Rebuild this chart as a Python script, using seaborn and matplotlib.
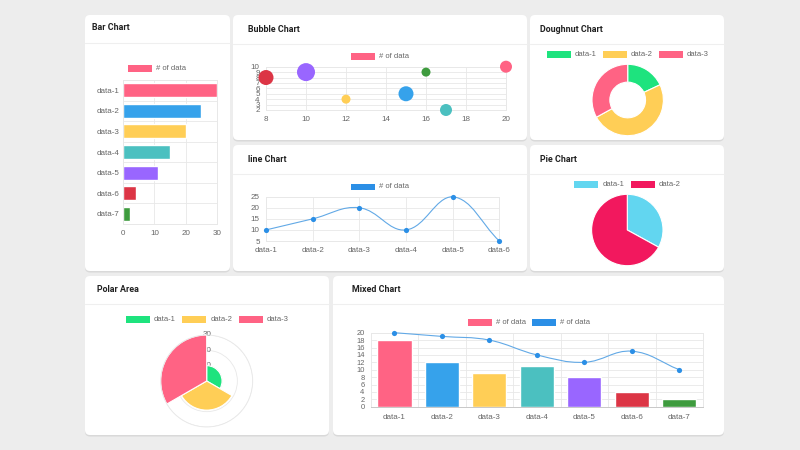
import numpy as np
import matplotlib
matplotlib.use('Agg')
import matplotlib.pyplot as plt
from matplotlib.patches import FancyBboxPatch, Rectangle, PathPatch
from matplotlib.path import Path
import seaborn as sns

# ---- data ----
bar_labels = ['data-1', 'data-2', 'data-3', 'data-4', 'data-5', 'data-6', 'data-7']
bar_values = [30, 25, 20, 15, 11, 4, 2]

bubble_names = ['b1', 'b2', 'b3', 'b4', 'b5', 'b6', 'b7']
bubble_x = [8, 10, 12, 15, 16, 17, 20]
bubble_y = [8, 9, 4, 5, 9, 2, 10]
bubble_r = [7.5, 9, 4.5, 7.5, 4.5, 6, 6]

donut_labels = ['data-1', 'data-2', 'data-3']
donut_values = [18, 49, 33]

line_labels = ['data-1', 'data-2', 'data-3', 'data-4', 'data-5', 'data-6']
line_values = [10, 15, 20, 10, 25, 5]

pie_labels = ['data-1', 'data-2']
pie_values = [33, 67]

polar_labels = ['data-1', 'data-2', 'data-3']
polar_values = [10, 19, 30]
polar_ticks = [10, 20, 30]

mixed_labels = ['data-1', 'data-2', 'data-3', 'data-4', 'data-5', 'data-6', 'data-7']
mixed_bars = [18, 12, 9, 11, 8, 4, 2]
mixed_line = [20, 19, 18, 14, 12, 15, 10]

# colours
PINK, BLUE, YELLOW, TEAL = '#FF6384', '#36A2EB', '#FFCE56', '#4BC0C0'
PURPLE, RED, GREEN = '#9966FF', '#DC3545', '#3E9B3E'
bar_colors = [PINK, BLUE, YELLOW, TEAL, PURPLE, RED, GREEN]
bubble_colors = [RED, PURPLE, YELLOW, BLUE, GREEN, TEAL, PINK]
donut_colors = ['#1EE37E', YELLOW, PINK]
pie_colors = ['#62D6F0', '#F2185E']
polar_colors = ['#1EE37E', YELLOW, PINK]
LINE_C, DOT_C = '#62A9E6', '#2B8FE6'

sns.set_style('white')
plt.rcParams['font.family'] = ['Liberation Sans', 'DejaVu Sans']

W, H = 800, 450
fig = plt.figure(figsize=(8, 4.5), dpi=100)
fig.patch.set_facecolor('#EDEDED')

TXT = '#666666'
GRID = '#E8E8E8'
FS = 5.8
LFS = 5.5


def ax_at(x0, y0, x1, y1, **kw):
    a = fig.add_axes([x0 / W, 1 - y1 / H, (x1 - x0) / W, (y1 - y0) / H], **kw)
    a.patch.set_alpha(0)
    return a


def card(x0, y0, x1, y1, title, sep_y, title_x):
    sh = FancyBboxPatch((x0 / 100, (H - y1 - 1.5) / 100), (x1 - x0) / 100, (y1 - y0) / 100,
                        boxstyle='round,pad=0,rounding_size=0.05', transform=fig.dpi_scale_trans,
                        fc='#D9D9D9', ec='none', zorder=-3)
    fig.patches.append(sh)
    p = FancyBboxPatch((x0 / 100, (H - y1) / 100), (x1 - x0) / 100, (y1 - y0) / 100,
                       boxstyle='round,pad=0,rounding_size=0.05', transform=fig.dpi_scale_trans,
                       fc='white', ec='none', zorder=-2)
    fig.patches.append(p)
    fig.lines.append(plt.Line2D([x0 / W, x1 / W], [1 - sep_y / H] * 2, color='#EFEFEF', lw=0.8,
                                transform=fig.transFigure, zorder=-1))
    fig.text(title_x / W, 1 - (sep_y - 15) / H, title, fontsize=6.4, fontweight='bold',
             family=['Roboto', 'DejaVu Sans'], color='#222222', va='center')


def legend(items, y):
    for x, c, t in items:
        fig.patches.append(Rectangle((x / 100, (H - y - 3.3) / 100), 0.24, 0.066,
                                     transform=fig.dpi_scale_trans, fc=c, ec='none'))
        fig.text((x + 28) / W, 1 - y / H, t, fontsize=LFS, color=TXT, va='center')


def style(ax, fs=FS):
    for s in ax.spines.values():
        s.set_color(GRID)
        s.set_linewidth(0.7)
    ax.tick_params(which='both', colors=GRID, labelcolor=TXT, labelsize=fs, length=3,
                   width=0.6, pad=1.5)
    ax.set_xlabel('')
    ax.set_ylabel('')


def smooth(ax, xs, ys, tension=0.4):
    # chart.js style bezier through the points (drawn in pixel space)
    pts = ax.transData.transform(np.column_stack([xs, ys]).astype(float))
    bb = ax.bbox
    n = len(pts)
    prev, nxt = [], []
    for i in range(n):
        p0, p1, p2 = pts[max(i - 1, 0)], pts[i], pts[min(i + 1, n - 1)]
        d01, d12 = np.hypot(*(p1 - p0)), np.hypot(*(p2 - p1))
        tot = d01 + d12
        s01 = d01 / tot if tot else 0
        s12 = d12 / tot if tot else 0
        prev.append(p1 - tension * s01 * (p2 - p0))
        nxt.append(p1 + tension * s12 * (p2 - p0))
    verts, codes = [pts[0]], [Path.MOVETO]
    for i in range(n - 1):
        a, b = nxt[i].copy(), prev[i + 1].copy()
        for c in (a, b):
            c[1] = min(max(c[1], bb.y0), bb.y1)
        verts += [a, b, pts[i + 1]]
        codes += [Path.CURVE4] * 3
    verts = ax.transData.inverted().transform(np.array(verts))
    ax.add_patch(PathPatch(Path(verts, codes), fc='none', ec=LINE_C, lw=0.8, zorder=3,
                           clip_on=False))


# ---- cards ----
card(85, 15, 230, 271, 'Bar Chart', 43, 92)
card(233, 15, 527, 140, 'Bubble Chart', 44, 248)
card(530, 15, 724, 140, 'Doughnut Chart', 44, 540)
card(233, 145, 527, 271, 'line Chart', 174, 248)
card(530, 145, 724, 271, 'Pie Chart', 174, 540)
card(85, 276, 329, 435, 'Polar Area', 304, 97)
card(333, 276, 724, 435, 'Mixed Chart', 304, 352)

# ---- bar chart ----
ax = ax_at(123.3, 80, 216.7, 224)
sns.barplot(x=bar_values, y=bar_labels, hue=bar_labels, palette=bar_colors, legend=False,
            orient='h', width=0.68, saturation=1, ax=ax)
ax.set_xlim(0, 30)
ax.set_ylim(6.5, -0.5)
ax.set_xticks([0, 10, 20, 30])
ax.set_yticks(np.arange(-0.5, 7, 1), minor=True)
ax.grid(True, which='major', axis='x', color=GRID, lw=0.6)
ax.grid(True, which='minor', axis='y', color=GRID, lw=0.6)
ax.set_axisbelow(True)
style(ax)
ax.tick_params(axis='y', which='major', length=0, pad=3)
legend([(128, PINK, '# of data')], 68.5)

# ---- bubble chart ----
ax = ax_at(266, 66.7, 506, 110)
sizes = [(1.44 * r) ** 2 for r in bubble_r]
sns.scatterplot(x=bubble_x, y=bubble_y, hue=bubble_names, palette=bubble_colors, s=sizes,
                legend=False, linewidth=0, alpha=1, ax=ax, zorder=3, clip_on=False)
ax.set_xlim(8, 20)
ax.set_ylim(2, 10)
ax.set_xticks(range(8, 21, 2))
ax.set_yticks(range(2, 11))
ax.grid(True, color=GRID, lw=0.6)
ax.set_axisbelow(True)
style(ax)
legend([(351, PINK, '# of data')], 56.5)

# ---- doughnut ----
ax = ax_at(592, 64.3, 663.4, 135.7)
ax.pie(donut_values, colors=donut_colors, startangle=90, counterclock=False,
       wedgeprops=dict(width=0.5, edgecolor='white', linewidth=0.8))
ax.set_xlim(-1, 1)
ax.set_ylim(-1, 1)
legend([(546.7, donut_colors[0], 'data-1'), (602.7, donut_colors[1], 'data-2'),
        (659, donut_colors[2], 'data-3')], 54.7)

# ---- line chart ----
ax = ax_at(266, 196.7, 499.3, 241)
xs = np.arange(len(line_values))
ax.set_xlim(0, 5)
ax.set_ylim(5, 25)
ax.set_xticks(xs)
ax.set_xticklabels(line_labels)
ax.set_yticks([5, 10, 15, 20, 25])
ax.grid(True, color=GRID, lw=0.6)
ax.set_axisbelow(True)
style(ax)
smooth(ax, xs, line_values)
sns.scatterplot(x=xs, y=line_values, color=DOT_C, s=14, linewidth=0, ax=ax, zorder=4,
                clip_on=False)
ax.set_xlim(0, 5)
ax.set_ylim(5, 25)
legend([(351, '#2B8FE6', '# of data')], 187)

# ---- pie ----
ax = ax_at(591.6, 194.3, 663, 265.7)
ax.pie(pie_values, colors=pie_colors, startangle=90, counterclock=False,
       wedgeprops=dict(edgecolor='white', linewidth=0.8))
ax.set_xlim(-1, 1)
ax.set_ylim(-1, 1)
legend([(574.3, pie_colors[0], 'data-1'), (630.7, pie_colors[1], 'data-2')], 184.7)

# ---- polar area ----
ax = ax_at(160.7, 335, 252.7, 427, projection='polar')
theta = np.deg2rad([60, 180, 300])
ax.set_theta_zero_location('N')
ax.set_theta_direction(-1)
ax.bar(theta, polar_values, width=2 * np.pi / 3, color=polar_colors, edgecolor='white',
       linewidth=0.8, zorder=2)
ax.set_ylim(0, 30)
ax.set_yticks(polar_ticks)
ax.set_yticklabels([])
ax.set_xticks([])
ax.grid(True, color=GRID, lw=0.6)
ax.spines['polar'].set_color(GRID)
ax.spines['polar'].set_linewidth(0.6)
for t in polar_ticks:
    ax.text(0, t, str(t), ha='center', va='center', fontsize=FS, color=TXT, zorder=1)
ax.set_axisbelow(True)
legend([(126, polar_colors[0], 'data-1'), (182.3, polar_colors[1], 'data-2'),
        (239, polar_colors[2], 'data-3')], 319.7)

# ---- mixed chart ----
ax = ax_at(370.7, 332.7, 703, 406.7)
sns.barplot(x=mixed_labels, y=mixed_bars, hue=mixed_labels, palette=bar_colors, legend=False,
            width=0.72, saturation=1, ax=ax)
ax.set_xlim(-0.5, 6.5)
ax.set_ylim(0, 20)
ax.set_yticks(range(0, 21, 2))
ax.set_xticks(np.arange(-0.5, 7, 1), minor=True)
ax.grid(True, which='major', axis='y', color=GRID, lw=0.6)
ax.grid(True, which='minor', axis='x', color=GRID, lw=0.6)
ax.set_axisbelow(True)
style(ax)
ax.tick_params(axis='y', labelsize=5.4)
ax.tick_params(axis='x', which='major', length=0, pad=5)
ax.tick_params(axis='x', which='minor', length=4)
ax.spines['bottom'].set_color('#C8C8C8')
mx = np.arange(len(mixed_line))
smooth(ax, mx, mixed_line)
sns.scatterplot(x=mx, y=mixed_line, color=DOT_C, s=14, linewidth=0, ax=ax, zorder=4,
                clip_on=False)
ax.set_xlim(-0.5, 6.5)
ax.set_ylim(0, 20)
legend([(467.7, PINK, '# of data'), (531.7, '#2B8FE6', '# of data')], 322.5)

fig.savefig('out.png', dpi=100, facecolor=fig.get_facecolor())
